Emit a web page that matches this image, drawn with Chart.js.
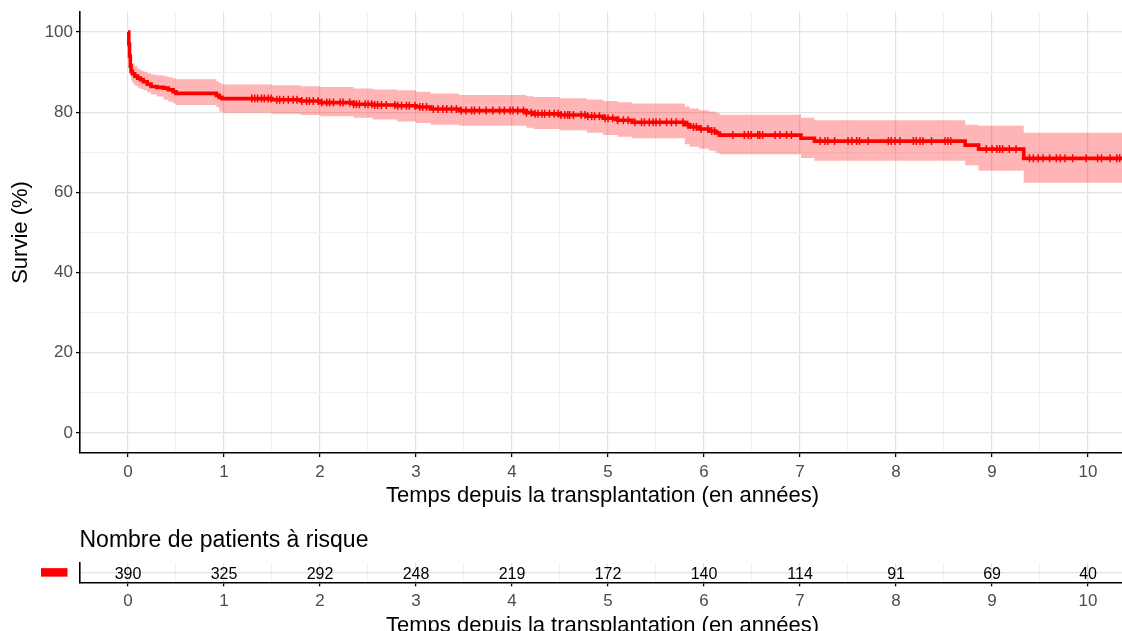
<!DOCTYPE html>
<html><head><meta charset="utf-8">
<script src="https://cdn.jsdelivr.net/npm/chart.js@4.4.0/dist/chart.umd.min.js"></script>
<style>
html,body{margin:0;padding:0;background:#fff;overflow:hidden;width:1122px;height:631px;}
#wrap{position:relative;width:1122px;height:631px;overflow:hidden;background:#fff;}
canvas{position:absolute;left:0;}
</style></head><body>
<div id="wrap">
<canvas id="main" width="1125" height="520" style="top:0;width:1125px;height:520px"></canvas>
<canvas id="risk" width="1125" height="120" style="top:520px;width:1125px;height:120px"></canvas>
</div>
<script>
// ---- data ----
const times = [0,0.008,0.016,0.024,0.032,0.045,0.07,0.1,0.13,0.16,0.2,0.24,0.3,0.37,0.42,0.47,0.5,0.92,0.95,0.98,1.5,1.8,2.0,2.35,2.55,2.8,3.0,3.15,3.45,4.15,4.22,4.5,4.78,4.95,5.1,5.25,5.8,5.85,5.95,6.05,6.12,6.16,7.01,7.15,8.72,8.86,9.33,10.385];
const survival = [100,97,94,91.5,90.2,89.6,89.0,88.5,88.1,87.6,87.0,86.4,86.2,86.0,85.6,85.1,84.7,84.2,83.7,83.4,83.1,82.8,82.4,82.0,81.8,81.6,81.3,80.8,80.4,79.9,79.6,79.3,79.0,78.5,78.0,77.5,76.9,76.3,75.8,75.3,74.8,74.3,73.5,72.8,71.8,70.8,68.5,68.5];
const upperCI = [100,98,96,94,93,92.2,91.5,90.8,90.4,90.1,89.7,89.4,89.2,89.0,88.7,88.4,88.2,87.7,87.2,86.9,86.7,86.5,86.3,85.9,85.7,85.5,85.1,84.7,84.3,84.0,83.8,83.5,83.2,82.8,82.5,82.2,81.4,80.9,80.5,80.2,79.9,79.4,78.6,78.0,76.9,76.6,74.9,74.9];
const lowerCI = [100,96,92,89.5,88.0,87.2,86.6,86.1,85.8,85.5,85.0,84.4,83.9,83.1,82.6,82.2,81.8,81.3,80.2,79.9,79.6,79.3,79.0,78.6,78.2,77.7,77.3,76.9,76.6,76.1,75.8,75.5,74.9,74.3,73.9,73.5,72.0,71.4,70.9,70.4,69.9,69.5,68.6,67.9,66.8,65.4,62.4,62.4];
const censorTimes = [1.29,1.32,1.35,1.39,1.42,1.46,1.49,1.55,1.58,1.62,1.67,1.72,1.76,1.81,1.86,1.89,1.93,1.98,2.02,2.07,
2.10,2.14,2.21,2.24,2.31,2.35,2.38,2.41,2.47,2.50,2.54,2.57,2.60,2.64,2.69,2.78,2.81,2.85,2.90,2.93,2.99,3.04,3.07,3.11,3.18,3.23,3.28,3.32,3.37,3.42,3.47,3.52,3.58,3.61,3.66,3.73,3.80,3.87,3.92,3.98,4.01,4.06,4.12,
4.15,4.20,4.24,4.27,4.31,4.34,4.39,4.44,4.48,4.51,4.55,4.58,4.60,4.64,4.72,4.76,4.79,4.83,4.86,4.91,4.97,5.00,5.05,5.10,5.16,5.21,5.28,5.35,5.38,5.43,5.47,5.50,5.54,5.61,5.66,5.71,5.78,5.83,5.89,5.92,5.97,6.04,6.08,6.11,
6.30,6.42,6.46,6.49,6.56,6.58,6.61,6.74,6.79,6.86,6.91,7.21,7.26,7.29,7.36,7.50,7.54,7.59,7.62,7.71,7.92,7.95,7.99,8.04,8.18,8.21,8.25,8.28,8.37,8.51,8.54,8.57,8.94,9.00,9.05,9.08,9.11,9.18,9.25,9.39,9.43,9.48,9.53,9.60,9.67,9.71,9.76,9.84,9.98,10.10,10.14,10.23,10.30,10.33];
const riskTimes = [0,1,2,3,4,5,6,7,8,9,10];
const riskCounts = [390,325,292,248,219,172,140,114,91,69,40];
const xTicks = [0,1,2,3,4,5,6,7,8,9,10];
const xMinorTicks = [0.5,1.5,2.5,3.5,4.5,5.5,6.5,7.5,8.5,9.5];
const yTicks = [0,20,40,60,80,100];
const yMinorTicks = [10,30,50,70,90];

// ---- styles ----
const RED = '#ff0000';
const BAND = 'rgba(255,0,0,0.29)';
const GRID_MAJOR = '#e3e3e3';
const GRID_MINOR = '#f1f1f1';
const FONT = "'Liberation Sans', Arial, sans-serif";
const X_MIN = -0.5, X_MAX = 10.385;

function survAt(t){ let v = survival[0]; for (let i=0;i<times.length;i++){ if (times[i] <= t) v = survival[i]; } return v; }
function pts(ys){ return times.map((t,i)=>({x:t, y:ys[i]})); }
const allX = xTicks.concat(xMinorTicks).sort((a,b)=>a-b);
const allY = yTicks.concat(yMinorTicks).sort((a,b)=>a-b);
function zeroPad(s){ s.paddingTop=0; s.paddingBottom=0; s.paddingLeft=0; s.paddingRight=0; }

function xScale(height, titlePad){
  return {
    type:'linear', min:X_MIN, max:X_MAX,
    afterBuildTicks: s => { s.ticks = allX.map(v=>({value:v})); },
    afterFit: s => { s.height = height; zeroPad(s); },
    ticks:{ callback: v => xTicks.includes(v) ? String(v) : '', font:{family:FONT,size:17}, color:'#4d4d4d', padding:5, maxRotation:0, minRotation:0, autoSkip:false },
    grid:{ color: c => (c.tick && xTicks.includes(c.tick.value)) ? GRID_MAJOR : GRID_MINOR,
           tickColor: c => (c.tick && xTicks.includes(c.tick.value)) ? '#000' : 'rgba(0,0,0,0)',
           lineWidth:1.2, tickLength:4, tickWidth:1.3 },
    border:{ display:true, color:'#000', width:1.6 },
    title:{ display:true, text:'Temps depuis la transplantation (en années)', font:{family:FONT,size:22}, color:'#000', padding:{top:0,bottom:titlePad} }
  };
}

// ---- main survival chart ----
new Chart(document.getElementById('main'), {
  type:'line',
  data:{ datasets:[
    { type:'scatter', data: censorTimes.map(t=>({x:t, y:survAt(t)})), pointStyle:'cross', pointRadius:4, pointBorderColor:RED, pointBackgroundColor:RED, pointBorderWidth:1.5, showLine:false },
    { data: pts(survival), stepped:'before', borderColor:RED, borderWidth:3.6, pointRadius:0, fill:false },
    { data: pts(upperCI), stepped:'before', borderColor:'rgba(0,0,0,0)', borderWidth:0, pointRadius:0, fill:false },
    { data: pts(lowerCI), stepped:'before', borderColor:'rgba(0,0,0,0)', borderWidth:0, pointRadius:0, fill:'-1', backgroundColor:BAND }
  ]},
  options:{
    responsive:false, animation:false, devicePixelRatio:1,
    layout:{ autoPadding:false, padding:{ top:12, right:0, bottom:0, left:0 } },
    plugins:{ legend:{display:false}, tooltip:{enabled:false} },
    events:[],
    scales:{
      x: xScale(67, 11),
      y:{
        type:'linear', min:-5, max:105,
        afterBuildTicks: s => { s.ticks = allY.map(v=>({value:v})); },
        afterFit: s => { s.width = 80; zeroPad(s); },
        ticks:{ callback: v => yTicks.includes(v) ? String(v) : '', font:{family:FONT,size:17}, color:'#4d4d4d', padding:3, autoSkip:false },
        grid:{ color: c => (c.tick && yTicks.includes(c.tick.value)) ? GRID_MAJOR : GRID_MINOR,
               tickColor: c => (c.tick && yTicks.includes(c.tick.value)) ? '#000' : 'rgba(0,0,0,0)',
               lineWidth:1.2, tickLength:4, tickWidth:1.3 },
        border:{ display:true, color:'#000', width:1.6 },
        title:{ display:true, text:'Survie (%)', font:{family:FONT,size:22}, color:'#000', padding:{top:8,bottom:0} }
      }
    }
  }
});

// ---- risk table ----
const riskPlugin = {
  id:'riskText',
  afterDraw(chart){
    const ctx = chart.ctx, xs = chart.scales.x, ys = chart.scales.y;
    ctx.save();
    ctx.fillStyle = '#000';
    ctx.font = "23px " + FONT;
    ctx.textAlign = 'left';
    ctx.textBaseline = 'alphabetic';
    ctx.fillText('Nombre de patients à risque', 79.5, 26.5);
    ctx.font = "16px " + FONT;
    ctx.textAlign = 'center';
    ctx.textBaseline = 'middle';
    const yc = ys.getPixelForValue(0.5);
    riskCounts.forEach((n,i) => { ctx.fillText(String(n), xs.getPixelForValue(riskTimes[i]), yc + 2); });
    ctx.fillStyle = RED;
    ctx.fillRect(41, yc - 4.5, 26.5, 8.5);
    ctx.restore();
  }
};
new Chart(document.getElementById('risk'), {
  type:'line',
  data:{ datasets:[ { data:[], pointRadius:0 } ] },
  plugins:[riskPlugin],
  options:{
    responsive:false, animation:false, devicePixelRatio:1,
    layout:{ autoPadding:false, padding:{ top:43, right:0, bottom:0, left:0 } },
    plugins:{ legend:{display:false}, tooltip:{enabled:false} },
    events:[],
    scales:{
      x: xScale(57.7, 1),
      y:{
        type:'linear', min:0, max:1,
        afterBuildTicks: s => { s.ticks = [{value:0.5}]; },
        afterFit: s => { s.width = 80; zeroPad(s); },
        ticks:{ display:false },
        grid:{ color: GRID_MAJOR, lineWidth:1.2, drawTicks:false },
        border:{ display:true, color:'#000', width:1.6 }
      }
    }
  }
});
</script>
</body></html>
